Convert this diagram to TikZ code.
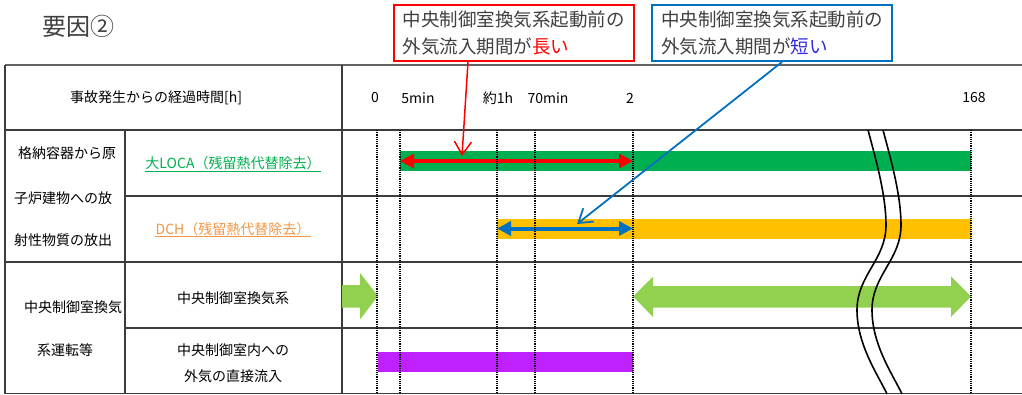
\documentclass[tikz,border=0pt]{standalone}
\usepackage{fontspec}
\setmainfont{Noto Sans CJK JP}
\usetikzlibrary{arrows.meta}
\definecolor{locagreen}{RGB}{0,176,80}
\definecolor{dchorange}{RGB}{255,192,0}
\definecolor{dchtext}{RGB}{244,150,70}
\definecolor{ventgreen}{RGB}{146,208,80}
\definecolor{inflowpurple}{RGB}{190,32,255}
\definecolor{shortblue}{RGB}{0,112,192}
\definecolor{shorttext}{RGB}{50,40,230}
\definecolor{gridgray}{RGB}{60,60,60}
\tikzset{
  gridline/.style={gridgray, line width=1.2pt},
  timemark/.style={black, line width=1.1pt, dash pattern=on 1.1pt off 1.1pt},
  cell/.style={inner sep=0pt, font=\fontsize{14}{16}\selectfont},
  callout/.style={line width=2pt, minimum width=240pt, minimum height=56pt, inner sep=0pt,
    align=left, text=black!75, font=\fontsize{18.5}{27}\selectfont},
  breakline/.style={line width=1.6pt},
  barhead/.tip={Triangle[length=14pt,width=14pt]},
  openhead/.tip={Straight Barb[length=13pt,width=17pt]}
}
\begin{document}
\begin{tikzpicture}[x=1pt,y=-1pt]
\useasboundingbox (0,0) rectangle (1022,394);

\draw[gridgray!80, line width=2pt] (5,65) -- (1022,65);
\draw[gridline] (5,130) -- (1022,130);
\draw[gridline] (125,196) -- (1022,196);
\draw[gridline] (5,262) -- (1022,262);
\draw[gridline] (125,328) -- (1022,328);
\draw[gridline] (5,393.4) -- (1022,393.4);
\draw[gridline] (5,65) -- (5,394);
\draw[gridline] (125,130) -- (125,394);
\draw[gridline] (342,65) -- (342,394);

\node[font=\fontsize{24}{28}\selectfont, text=black!75] (factor) at (78,26) {要因②};

\node[cell] (elapsed) at (156,98) {事故発生からの経過時間[h]};
\node[cell] (h0) at (375,98) {0};
\node[cell] (m5) at (418,98) {5min};
\node[cell] (h1) at (498,98) {約1h};
\node[cell] (m70) at (548,98) {70min};
\node[cell] (h2) at (630,98) {2};
\node[cell] (h168) at (974,98) {168};

\node[cell] (release1) at (67,153) {格納容器から原};
\node[cell] (release2) at (63,198) {子炉建物への放};
\node[cell] (release3) at (63,240) {射性物質の放出};
\node[cell] (vent1) at (73,307) {中央制御室換気};
\node[cell] (vent2) at (65,350) {系運転等};

\node[cell, text=locagreen] (loca) at (233,163) {大LOCA（残留熱代替除去）};
\draw[locagreen, line width=0.8pt] (loca.west |- 0,171) -- (loca.east |- 0,171);
\node[cell, text=dchtext] (dch) at (233,229) {DCH（残留熱代替除去）};
\draw[dchtext, line width=0.8pt] (dch.west |- 0,236.5) -- (dch.east |- 0,236.5);
\node[cell] (ventsys) at (233,298) {中央制御室換気系};
\node[cell] (inflow1) at (233,350) {中央制御室内への};
\node[cell] (inflow2) at (233,376) {外気の直接流入};

\fill[locagreen] (400,151) rectangle (971,171);
\fill[dchorange] (497,218.5) rectangle (971,239);
\fill[ventgreen] (342,285) -- (360,285) -- (360,273) -- (378,296) -- (360,319.5) -- (360,307.5) -- (342,307.5) -- cycle;
\fill[ventgreen] (633,296.5) -- (653,276.5) -- (653,286) -- (951,286) -- (951,276.5) -- (971,296.5) -- (951,317) -- (951,307.5) -- (653,307.5) -- (653,317) -- cycle;
\fill[inflowpurple] (378,352) rectangle (633,372);

\coordinate (loca5) at (400,161);
\coordinate (loca2) at (633,161);
\draw[red, line width=4pt, barhead-barhead] (loca5) -- (loca2);
\coordinate (dch1) at (497,228.5);
\coordinate (dch2) at (633,228.5);
\draw[shortblue, line width=4pt, barhead-barhead] (dch1) -- (dch2);

\foreach \t in {377,400,497,535,633,971}
  \draw[timemark] (\t,130) -- (\t,394);

\foreach \dx in {0,15}
  \draw[breakline, xshift=\dx pt] (868,130) .. controls (876,160) and (886,195) .. (886,225)
    .. controls (886,260) and (857,275) .. (857,310)
    .. controls (857,345) and (878,375) .. (887,394);

\node[callout, draw=red] (longbox) at (513.5,33) {中央制御室換気系起動前の\\外気流入期間が\textcolor{red}{長い}};
\node[callout, draw=shortblue] (shortbox) at (772.3,33) {中央制御室換気系起動前の\\外気流入期間が\textcolor{shorttext}{短い}};

\coordinate (longtip) at (462,156);
\draw[red, line width=1.5pt, -openhead] (468,0 |- longbox.south) -- (longtip);
\coordinate (shorttip) at (577,224);
\draw[shortblue, line width=1.8pt, -openhead] (782,0 |- shortbox.south) -- (shorttip);
\end{tikzpicture}
\end{document}
